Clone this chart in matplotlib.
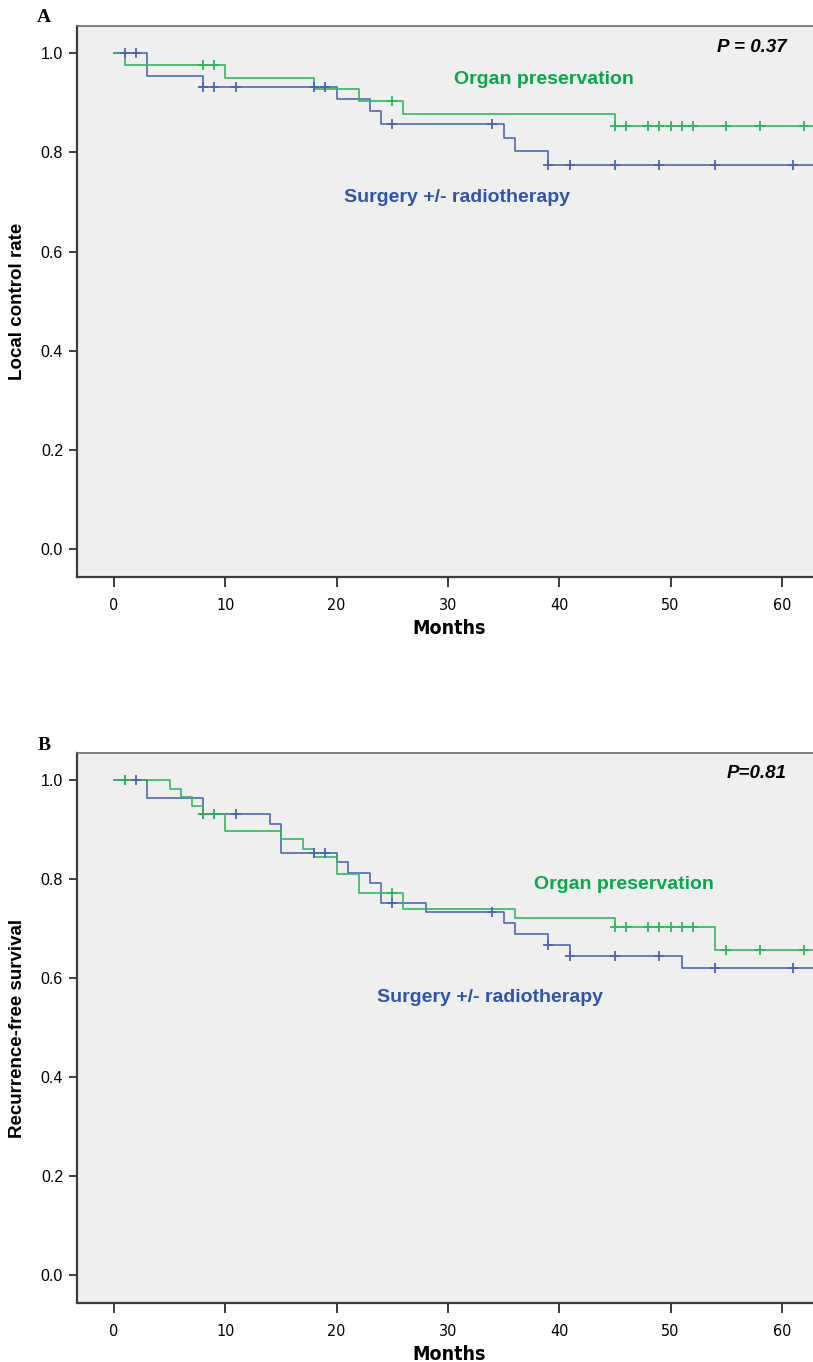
import numpy as np
import matplotlib
matplotlib.use("Agg")
import matplotlib.pyplot as plt

# Kaplan-Meier step data (months, survival) and censoring times
a_op_times = [0, 1, 10, 18, 22, 26, 45]
a_op_surv = [1.0, 0.976, 0.951, 0.927, 0.903, 0.878, 0.854]
a_op_cens = [8, 9, 25, 45, 46, 48, 49, 50, 51, 52, 55, 58, 62]

a_sx_times = [0, 3, 8, 20, 23, 24, 35, 36, 39]
a_sx_surv = [1.0, 0.955, 0.933, 0.908, 0.883, 0.857, 0.830, 0.802, 0.774]
a_sx_cens = [1, 2, 8, 9, 11, 18, 19, 25, 34, 39, 41, 45, 49, 54, 61]

b_op_times = [0, 5, 6, 7, 8, 10, 15, 17, 18, 20, 22, 26, 36, 45, 54]
b_op_surv = [1.0, 0.983, 0.966, 0.948, 0.931, 0.897, 0.882, 0.862, 0.845,
             0.810, 0.773, 0.740, 0.721, 0.703, 0.658]
b_op_cens = [1, 8, 9, 25, 45, 46, 48, 49, 50, 51, 52, 55, 58, 62]

b_sx_times = [0, 3, 8, 14, 15, 20, 21, 23, 24, 28, 35, 36, 39, 41, 51]
b_sx_surv = [1.0, 0.965, 0.931, 0.911, 0.854, 0.834, 0.812, 0.792, 0.753,
             0.733, 0.711, 0.689, 0.668, 0.644, 0.621]
b_sx_cens = [1, 2, 8, 9, 11, 18, 19, 25, 34, 39, 41, 45, 49, 54, 61]

x_ticks = [0, 10, 20, 30, 40, 50, 60]
y_ticks = [0.0, 0.2, 0.4, 0.6, 0.8, 1.0]

GREEN = "#2fb55c"
GREEN_TXT = "#0aa64b"
BLUE = "#4a63b3"
BLUE_TXT = "#2f55aa"
BG = "#efefef"
SPINE = "#3c3c3c"

BOLD = ["Liberation Sans", "DejaVu Sans"]
NARROW = ["Liberation Sans Narrow", "DejaVu Sans"]
plt.rcParams["font.family"] = BOLD

W, H = 813, 1362
fig = plt.figure(figsize=(W / 100, H / 100), dpi=100)


def km(ax, times, surv, cens, color):
    t = np.append(times, 66)
    s = np.append(surv, surv[-1])
    ax.step(t, s, where="post", color=color, lw=1.15, zorder=3)
    idx = np.searchsorted(times, cens, side="right") - 1
    ax.plot(cens, np.array(surv)[idx], "+", color=color, ms=7, mew=1.3,
            zorder=4)


def panel(top_px, bot_px, ylab, letter, p_text, p_xy, op_xy, sx_xy, curves):
    ax = fig.add_axes([77 / W, 1 - bot_px / H, (W - 77) / W,
                       (bot_px - top_px) / H])
    ax.set_facecolor(BG)
    for times, surv, cens, color in curves:
        km(ax, times, surv, cens, color)

    ax.set_xlim(-3.32, 62.8)
    ax.set_ylim(-0.056, 1.055)

    ax.set_xticks(x_ticks)
    ax.set_xticklabels([str(v) for v in x_ticks], family=NARROW,
                       stretch="condensed", fontsize=11.5)
    ax.set_yticks(y_ticks)
    ax.set_yticklabels([f"{v:.1f}" for v in y_ticks], fontsize=11.5)
    ax.tick_params(axis="x", length=7, width=1.4, color=SPINE, pad=8)
    ax.tick_params(axis="y", length=6, width=1.4, color=SPINE, pad=4)

    for side in ["left", "bottom"]:
        ax.spines[side].set_color(SPINE)
        ax.spines[side].set_linewidth(1.6)
    ax.spines["top"].set_color("#6a6a6a")
    ax.spines["top"].set_linewidth(1.2)
    ax.spines["right"].set_visible(False)

    ax.set_ylabel(ylab, fontsize=13.5, fontweight="bold")
    ax.yaxis.set_label_coords(-0.069, 0.5)
    ax.set_xlabel("Months", family=NARROW, stretch="condensed", fontsize=14,
                  fontweight="bold")
    ax.xaxis.set_label_coords(0.505, -0.077)

    ax.text(*p_xy, p_text, fontsize=13.5, fontweight="bold", style="italic",
            ha="center", va="center")
    ax.text(*op_xy, "Organ preservation", color=GREEN_TXT, fontsize=14,
            fontweight="bold", ha="center", va="center")
    ax.text(*sx_xy, "Surgery +/- radiotherapy", color=BLUE_TXT, fontsize=14,
            fontweight="bold", ha="center", va="center")

    fig.text(44 / W, 1 - (top_px - 8) / H, letter, family="Liberation Serif",
             fontsize=14, fontweight="bold", ha="center", va="center")
    return ax


panel(26, 577, "Local control rate", "A", "P = 0.37",
      (57.3, 1.012), (38.6, 0.947), (30.8, 0.709),
      [(a_sx_times, a_sx_surv, a_sx_cens, BLUE),
       (a_op_times, a_op_surv, a_op_cens, GREEN)])

panel(753, 1303, "Recurrence-free survival", "B", "P=0.81",
      (57.7, 1.013), (45.8, 0.790), (33.8, 0.562),
      [(b_sx_times, b_sx_surv, b_sx_cens, BLUE),
       (b_op_times, b_op_surv, b_op_cens, GREEN)])

fig.savefig("out.png", dpi=100)
